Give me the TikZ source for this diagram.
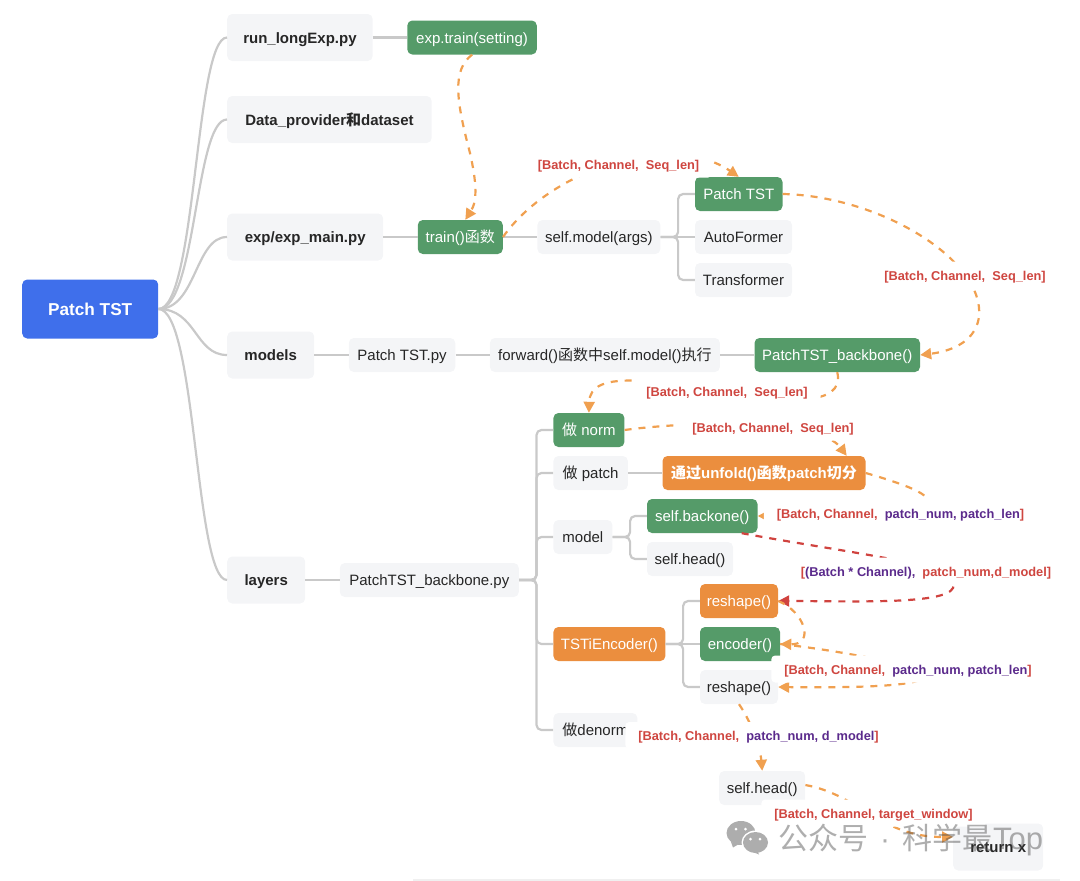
\documentclass[tikz,border=0pt]{standalone}
\usepackage{fontspec}
\setmainfont{Liberation Sans}
\newfontfamily\cjk{Noto Sans CJK SC}
\newcommand{\zh}[1]{{\cjk #1}}
\usetikzlibrary{positioning,arrows.meta}
\definecolor{softgray}{HTML}{F4F5F7}
\definecolor{leaf}{HTML}{559B69}
\definecolor{carrot}{HTML}{EB8E3E}
\definecolor{rootblue}{HTML}{3F6FEB}
\definecolor{wire}{HTML}{C9C9C9}
\definecolor{flowor}{HTML}{F0A050}
\definecolor{flowred}{HTML}{D0433F}
\definecolor{dimred}{HTML}{CF4640}
\definecolor{dimpurple}{HTML}{5B2A8C}
\definecolor{wechat}{HTML}{ADADAD}
\newcommand{\dimp}[1]{\textcolor{dimpurple}{#1}}

\begin{document}
\begin{tikzpicture}[x=1pt, y=-1pt, node distance=34.2pt,
  box/.style={rounded corners=5pt, minimum height=34pt, inner xsep=5pt, inner ysep=0pt, text height=13pt, text depth=2pt, text=black!85, fill=softgray, font=\fontsize{15}{18}\selectfont},
  head/.style={box, minimum height=47pt, font=\fontsize{15}{18}\selectfont\bfseries},
  green/.style={box, fill=leaf, text=white},
  orange/.style={box, fill=carrot, text=white},
  dimlabel/.style={fill=white, rounded corners=4pt, minimum height=27pt, inner xsep=13pt, inner ysep=0pt, text height=11.5pt, text depth=1pt, text=dimred, font=\fontsize{12.8}{15}\selectfont\bfseries},
  link/.style={draw=wire, line width=2.2pt},
  tree/.style={link, rounded corners=5pt},
  flow/.style={draw=flowor, line width=2.2pt, dash pattern=on 7pt off 7pt, -{Triangle[length=11pt,width=11pt]}},
  flowr/.style={flow, draw=flowred}]
\useasboundingbox (0,0) rectangle (1080,881);

% root and the five first level items
\node[box, fill=rootblue, text=white, minimum width=136pt, minimum height=59pt, text height=14pt, font=\fontsize{17.2}{20}\selectfont\bfseries, anchor=west] (root) at (22,309) {Patch TST};
\node[head, minimum width=145.5pt, anchor=west] (run) at (227,37.5) {run\_longExp.py};
\node[head, minimum width=204.5pt, anchor=west] (data) at (227,119.5) {Data\_provider\zh{和}dataset};
\node[head, minimum width=156pt, anchor=west] (main) at (227,237) {exp/exp\_main.py};
\node[head, minimum width=87pt, anchor=west] (mods) at (227,355) {models};
\node[head, minimum width=78pt, anchor=west] (lay) at (227,580) {layers};

% rows to the right of them
\node[green, minimum width=129.5pt, right=of run] (etr) {exp.train(setting)};
\node[green, minimum width=85pt, right=of main] (tr) {train()\zh{函数}};
\node[box, minimum width=123pt, right=of tr] (sm) {self.model(args)};
\node[green, minimum width=87.5pt, right=of sm, yshift=43pt] (pt) {Patch TST};
\node[box, minimum width=97pt, right=of sm] (af) {AutoFormer};
\node[box, minimum width=97pt, right=of sm, yshift=-43pt] (tf) {Transformer};
\node[box, minimum width=106.5pt, right=of mods] (py) {Patch TST.py};
\node[box, minimum width=230pt, right=of py] (fw) {forward()\zh{函数中}self.model()\zh{执行}};
\node[green, minimum width=165.5pt, right=of fw] (bb) {PatchTST\_backbone()};
\node[box, minimum width=179pt, right=of lay] (bpy) {PatchTST\_backbone.py};

% the layers column
\node[green, minimum width=71pt, right=of bpy, yshift=150pt] (nrm) {\zh{做} norm};
\node[box, minimum width=74.5pt, right=of bpy, yshift=107pt] (pat) {\zh{做} patch};
\node[box, minimum width=59pt, right=of bpy, yshift=43pt] (mdl) {model};
\node[orange, minimum width=112pt, right=of bpy, yshift=-64pt] (tsti) {TSTiEncoder()};
\node[box, minimum width=84pt, right=of bpy, yshift=-150pt] (den) {\zh{做}denorm};
\node[orange, minimum width=203pt, right=of pat, font=\fontsize{15}{18}\selectfont\bfseries] (uf) {\zh{通过}unfold()\zh{函数}patch\zh{切分}};
\node[green, minimum width=110.5pt, right=of mdl, yshift=21pt] (sb) {self.backone()};
\node[box, minimum width=86pt, right=of mdl, yshift=-22pt] (sh) {self.head()};
\node[orange, minimum width=78pt, right=of tsti, yshift=43pt] (rs) {reshape()};
\node[green, minimum width=80pt, right=of tsti] (en) {encoder()};
\node[box, minimum width=78pt, right=of tsti, yshift=-43pt] (rt) {reshape()};
\node[box, minimum width=86pt, anchor=west] (sho) at (719,788) {self.head()};
\node[head, minimum width=90pt, anchor=west] (ret) at (953,847) {return x};

% grey connectors
\foreach \b in {run, data, main, mods, lay}
  \draw[link] (root.east) .. controls +(38,0) and +(-32,0) .. (\b.west);
\foreach \a/\b in {run/etr, main/tr, tr/sm, sm/af, mods/py, py/fw, fw/bb, lay/bpy, pat/uf, tsti/en}
  \draw[link] (\a) -- (\b);
\foreach \a/\b in {sm/pt, sm/tf, bpy/nrm, bpy/pat, bpy/mdl, bpy/tsti, bpy/den, mdl/sb, mdl/sh, tsti/rs, tsti/rt}
  \draw[tree] (\a.east) -- ++(17.5,0) |- (\b.west);

% dashed tensor flow
\draw[flow] (etr.south) .. controls (452,70) and (456,100) .. (470,153) .. controls (476,180) and (478,200) .. ([xshift=5pt]tr.north);
\draw[flow] (tr.east) .. controls (550,170) and (670,130) .. (pt.north);
\draw[flow] (pt.east) .. controls (880,196) and (985,260) .. (979,317) .. controls (975,345) and (945,352) .. (bb.east);
\draw[flow] (bb.south) .. controls (846,408) and (780,402) .. (725,392) .. controls (650,380) and (590,370) .. (nrm.north);
\draw[flow] (nrm.east) .. controls (700,420) and (820,420) .. ([xshift=-19pt]uf.north east);
\draw[flow] (uf.east) .. controls (960,500) and (960,516) .. (sb.east);
\draw[flowr] ([xshift=-16pt]sb.south east) .. controls (860,555) and (965,565) .. (953,588) .. controls (945,605) and (850,601) .. (rs.east);
\draw[flow] (rs.east) .. controls (805,612) and (815,645) .. (en.east);
\draw[flow] (en.east) .. controls (880,655) and (1040,690) .. (rt.east);
\draw[flow] (rt.south) .. controls (750,720) and (760,745) .. (sho.north);
\draw[flow] ([yshift=3pt]sho.east) .. controls (860,795) and (880,837) .. ([yshift=10pt]ret.west);

% shape labels sit on top of the arrows
\node[dimlabel] (l1) at (618.5,164) {[Batch, Channel,\ \ Seq\_len]};
\node[dimlabel] (l2) at (965,275) {[Batch, Channel,\ \ Seq\_len]};
\node[dimlabel] (l3) at (727,391) {[Batch, Channel,\ \ Seq\_len]};
\node[dimlabel] (l4) at (773,427) {[Batch, Channel,\ \ Seq\_len]};
\node[dimlabel] (l5) at (900.5,513) {[Batch, Channel,\ \ \dimp{patch\_num, patch\_len}]};
\node[dimlabel] (l6) at (926,571) {[\dimp{(Batch * Channel),}\ \ patch\_num,d\_model]};
\node[dimlabel] (l7) at (908,669) {[Batch, Channel,\ \ \dimp{patch\_num, patch\_len}]};
\node[dimlabel] (l8) at (758.5,735.5) {[Batch, Channel,\ \ \dimp{patch\_num, d\_model}]};
\node[dimlabel] (l9) at (873.5,813) {[Batch, Channel, target\_window]};

% page furniture
\draw[black!6, line width=1.5pt] (413,880) -- (1060,880);
\fill[wechat] (741,833) ellipse (14.5pt and 12pt);
\fill[wechat] (731,842) -- (733,847.5) -- (739,844) -- cycle;
\fill[white] (755.5,842.5) ellipse (14pt and 12pt);
\fill[wechat] (755.5,842.5) ellipse (12.5pt and 10.5pt);
\fill[wechat] (757,850) -- (759,854.5) -- (753,852) -- cycle;
\foreach \ex/\ey in {736/829, 745.5/829, 750.5/839, 760/839}
  \fill[white] (\ex,\ey) circle (1.5pt);
\node[text=black!70, opacity=.45, inner sep=0pt, anchor=west, font=\fontsize{30}{32}\selectfont] (mark) at (778,840) {\zh{公众号}\hspace{12pt}·\hspace{12pt}\zh{科学最}\hspace{1pt}\fontsize{31}{32}\selectfont Top};
\end{tikzpicture}
\end{document}
